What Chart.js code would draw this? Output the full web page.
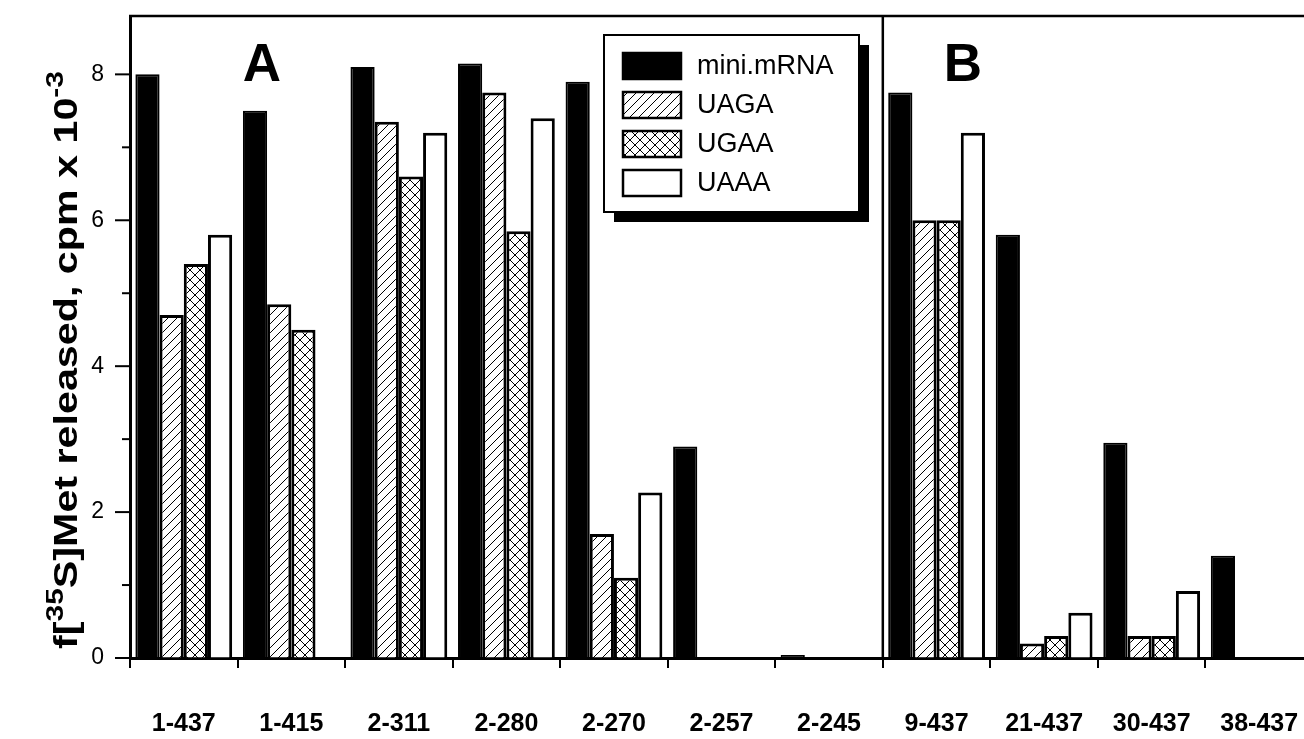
<!DOCTYPE html>
<html>
<head>
<meta charset="utf-8">
<script src="https://cdn.jsdelivr.net/npm/chart.js@4"></script>
<style>
  html, body { margin: 0; padding: 0; background: #fff; overflow: hidden; }
  #wrap { width: 1304px; height: 739px; overflow: hidden; }
</style>
</head>
<body>
<div id="wrap"><canvas id="chart1" width="1320" height="739"></canvas></div>
<script>
// constructs (x axis) and released f[35S]Met, cpm x 10^-3
const categories = ['1-437', '1-415', '2-311', '2-280', '2-270', '2-257', '2-245', '9-437', '21-437', '30-437', '38-437'];
const seriesNames = ['mini.mRNA', 'UAGA', 'UGAA', 'UAAA'];
const miniMRNA = [8.0, 7.5, 8.1, 8.15, 7.9, 2.9, 0.04, 7.75, 5.8, 2.95, 1.4];
const uaga     = [4.7, 4.85, 7.35, 7.75, 1.7, 0, 0, 6.0, 0.2, 0.3, 0];
const ugaa     = [5.4, 4.5, 6.6, 5.85, 1.1, 0, 0, 6.0, 0.3, 0.3, 0];
const uaaa     = [5.8, 0, 7.2, 7.4, 2.27, 0, 0, 7.2, 0.62, 0.92, 0];
const yTicks = [0, 2, 4, 6, 8];
const panelLabels = ['A', 'B'];

const FONT = "'Liberation Sans', Arial, Helvetica, sans-serif";

// hatch fills, like the old printed figure
function makePattern(cross, s) {
	const c = document.createElement('canvas');
	c.width = s; c.height = s;
	const g = c.getContext('2d');
	g.fillStyle = '#fff';
	g.fillRect(0, 0, s, s);
	g.strokeStyle = '#000';
	g.lineWidth = 1;
	g.beginPath();
	g.moveTo(0, s); g.lineTo(s, 0);
	g.moveTo(-1, 1); g.lineTo(1, -1);
	g.moveTo(s - 1, s + 1); g.lineTo(s + 1, s - 1);
	if (cross) {
		g.moveTo(0, 0); g.lineTo(s, s);
		g.moveTo(-1, s - 1); g.lineTo(1, s + 1);
		g.moveTo(s - 1, -1); g.lineTo(s + 1, 1);
	}
	g.stroke();
	return g.createPattern(c, 'repeat');
}
const slash = makePattern(false, 9);
const crossHatch = makePattern(true, 10);

// frame: top line + divider between panel A and B, minor/major y ticks, y title, panel letters, legend
const framePlugin = {
	id: 'frame',
	afterDraw(chart) {
		const ctx = chart.ctx;
		const a = chart.chartArea;
		const x = chart.scales.x, y = chart.scales.y;
		ctx.save();
		ctx.strokeStyle = '#000';
		ctx.lineCap = 'butt';
		// top border
		ctx.lineWidth = 2.5;
		ctx.beginPath();
		ctx.moveTo(a.left - 1, a.top); ctx.lineTo(a.right + 20, a.top);
		ctx.stroke();
		// divider between 2-245 and 9-437
		const xd = (x.getPixelForValue(6) + x.getPixelForValue(7)) / 2;
		ctx.beginPath();
		ctx.moveTo(xd, a.top); ctx.lineTo(xd, a.bottom);
		ctx.stroke();
		// y ticks: major on even, minor on odd
		ctx.lineWidth = 2;
		for (let v = 0; v <= 8; v++) {
			const py = y.getPixelForValue(v);
			const len = (v % 2 == 0) ? 15 : 8;
			ctx.beginPath();
			ctx.moveTo(a.left - len, py); ctx.lineTo(a.left, py);
			ctx.stroke();
		}
		// panel letters
		ctx.fillStyle = '#000';
		ctx.font = 'bold 53px ' + FONT;
		ctx.textAlign = 'center';
		ctx.textBaseline = 'alphabetic';
		ctx.fillText(panelLabels[0], 262, 81);
		ctx.fillText(panelLabels[1], 963, 81);
		// y axis title with superscripts
		const parts = [
			{t: 'f[', sup: false},
			{t: '35', sup: true},
			{t: 'S]Met released, cpm x 10', sup: false},
			{t: '-3', sup: true}
		];
		const mainF = 'bold 33px ' + FONT, supF = 'bold 24px ' + FONT;
		let total = 0;
		parts.forEach(p => { ctx.font = p.sup ? supF : mainF; p.w = ctx.measureText(p.t).width; total += p.w; });
		ctx.translate(77, 360);
		ctx.rotate(-Math.PI / 2);
		ctx.scale(578 / total, 1);
		ctx.textAlign = 'left';
		let cx = -total / 2;
		parts.forEach(p => {
			ctx.font = p.sup ? supF : mainF;
			ctx.fillText(p.t, cx, p.sup ? -14 : 0);
			cx += p.w;
		});
		ctx.restore();

		// legend box with drop shadow
		ctx.save();
		const lx = 604, ly = 35, lw = 255, lh = 177;
		ctx.fillStyle = '#000';
		ctx.fillRect(lx + 10, ly + 10, lw, lh);
		ctx.fillStyle = '#fff';
		ctx.fillRect(lx, ly, lw, lh);
		ctx.strokeStyle = '#000';
		ctx.lineWidth = 2;
		ctx.strokeRect(lx, ly, lw, lh);
		ctx.font = '27px ' + FONT;
		ctx.textBaseline = 'middle';
		chart.data.datasets.forEach((ds, i) => {
			const ry = ly + 31 + i * 39;
			ctx.fillStyle = ds.backgroundColor;
			ctx.fillRect(lx + 19, ry - 13, 58, 26);
			ctx.lineWidth = 2.5;
			ctx.strokeRect(lx + 19, ry - 13, 58, 26);
			ctx.fillStyle = '#000';
			ctx.fillText(ds.label, lx + 93, ry + 1);
		});
		ctx.restore();
	}
};

const myChart = new Chart('chart1', {
	type: 'bar',
	data: {
		labels: categories,
		datasets: [
			{label: seriesNames[0], data: miniMRNA, backgroundColor: '#000', borderColor: '#000', borderWidth: 2},
			{label: seriesNames[1], data: uaga, backgroundColor: slash, borderColor: '#000', borderWidth: 3},
			{label: seriesNames[2], data: ugaa, backgroundColor: crossHatch, borderColor: '#000', borderWidth: 3},
			{label: seriesNames[3], data: uaaa, backgroundColor: '#fff', borderColor: '#000', borderWidth: 3}
		]
	},
	options: {
		responsive: false,
		animation: false,
		devicePixelRatio: 1,
		categoryPercentage: 0.9,
		barPercentage: 1.0,
		layout: {
			padding: {left: 90, right: 7, top: 16, bottom: 0}
		},
		scales: {
			x: {
				afterFit: function(scale) {
					scale.height = 81;
					scale.paddingLeft = 0;
					scale.paddingRight = 0;
				},
				grid: {
					display: true,
					drawOnChartArea: false,
					offset: true,
					tickLength: 10,
					lineWidth: 2,
					color: '#000'
				},
				border: {display: true, color: '#000', width: 3},
				ticks: {
					color: '#000',
					padding: 41,
					maxRotation: 0,
					autoSkip: false,
					font: {family: FONT, size: 25, weight: 'bold'}
				}
			},
			y: {
				min: 0,
				max: 8.8,
				afterBuildTicks: function(scale) {
					scale.ticks = yTicks.map(v => ({value: v}));
				},
				afterFit: function(scale) {
					scale.width = 40;
					scale.paddingTop = 0;
					scale.paddingBottom = 0;
				},
				grid: {display: true, drawOnChartArea: false, drawTicks: false},
				border: {display: true, color: '#000', width: 3},
				ticks: {
					color: '#000',
					padding: 26,
					font: {family: FONT, size: 23}
				}
			}
		},
		plugins: {
			legend: {display: false},
			tooltip: {enabled: false}
		}
	},
	plugins: [framePlugin]
});
</script>
</body>
</html>
